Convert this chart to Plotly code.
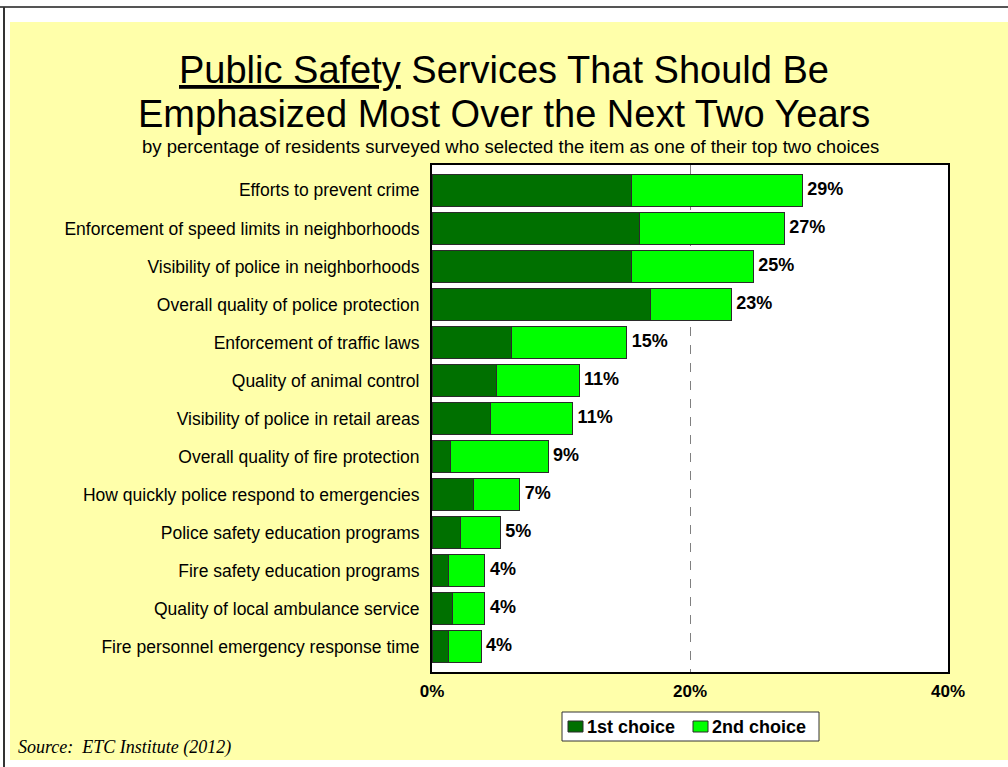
import plotly.graph_objects as go

categories = [
    "Efforts to prevent crime",
    "Enforcement of speed limits in neighborhoods",
    "Visibility of police in neighborhoods",
    "Overall quality of police protection",
    "Enforcement of traffic laws",
    "Quality of animal control",
    "Visibility of police in retail areas",
    "Overall quality of fire protection",
    "How quickly police respond to emergencies",
    "Police safety education programs",
    "Fire safety education programs",
    "Quality of local ambulance service",
    "Fire personnel emergency response time",
]
first_choice = [15.5, 16.1, 15.5, 16.9, 6.2, 5.0, 4.5, 1.4, 3.2, 2.2, 1.3, 1.6, 1.3]
second_choice = [13.2, 11.2, 9.4, 6.3, 8.9, 6.4, 6.4, 7.6, 3.6, 3.1, 2.8, 2.5, 2.5]
total_labels = ["29%", "27%", "25%", "23%", "15%", "11%", "11%", "9%", "7%", "5%", "4%", "4%", "4%"]
x_ticks = [0, 20, 40]
x_tick_text = ["0%", "20%", "40%"]
series_names = ["1st choice", "2nd choice"]
series_colors = ["#007000", "#00ff00"]

totals = [a + b for a, b in zip(first_choice, second_choice)]

W, H = 1008, 767
L, R, T, B = 432, 948, 165, 672
pw, ph = R - L, B - T
SANS = "Liberation Sans, Arial, sans-serif"


def px(xp):
    return (xp - L) / pw


def py(yp):
    return (B - yp) / ph


fig = go.Figure()
for vals, name, col in zip([first_choice, second_choice], series_names, series_colors):
    fig.add_trace(go.Bar(
        y=categories, x=vals, orientation="h", name=name, showlegend=False,
        marker=dict(color=col, line=dict(color="#2b2b2b", width=1)),
    ))
fig.add_trace(go.Scatter(
    y=categories, x=totals, mode="text", text=[" " + t for t in total_labels],
    textposition="middle right", showlegend=False, hoverinfo="skip",
    textfont=dict(family=SANS, size=18, color="black", weight="bold"),
))

shapes = [
    dict(type="rect", xref="paper", yref="paper", x0=px(10), x1=px(1008), y0=py(760), y1=py(22),
         fillcolor="#ffffaa", line=dict(width=0), layer="below"),
    dict(type="line", xref="paper", yref="paper", x0=px(0), x1=px(1008), y0=py(7), y1=py(7),
         line=dict(color="#555555", width=2)),
    dict(type="line", xref="paper", yref="paper", x0=px(4), x1=px(4), y0=py(7), y1=py(767),
         line=dict(color="#333333", width=2)),
    dict(type="rect", xref="paper", yref="paper", x0=0, x1=1, y0=0, y1=1,
         fillcolor="white", line=dict(width=0), layer="below"),
    dict(type="rect", xref="paper", yref="paper", x0=px(562), x1=px(819), y0=py(741), y1=py(712),
         fillcolor="white", line=dict(color="#333333", width=1)),
]

annotations = [
    dict(text="<u>Public Safety</u> Services That Should Be", xref="paper", yref="paper",
         x=px(504), y=py(70), showarrow=False, xanchor="center", yanchor="middle",
         font=dict(family=SANS, size=38, color="black")),
    dict(text="Emphasized Most Over the Next Two Years", xref="paper", yref="paper",
         x=px(504), y=py(114), showarrow=False, xanchor="center", yanchor="middle",
         font=dict(family=SANS, size=38, color="black")),
    dict(text="by percentage of residents surveyed who selected the item as one of their top two choices",
         xref="paper", yref="paper", x=px(510), y=py(146), showarrow=False,
         xanchor="center", yanchor="middle",
         font=dict(family=SANS, size=18.5, color="black")),
    dict(text="Source:  ETC Institute (2012)", xref="paper", yref="paper",
         x=px(16), y=py(748), showarrow=False, xanchor="left", yanchor="middle",
         font=dict(family="Liberation Serif, Times New Roman, serif", size=18, color="black",
                   style="italic")),
]

leg_x = [568, 693]
for xs, name, col in zip(leg_x, series_names, series_colors):
    shapes.append(dict(type="rect", xref="paper", yref="paper", x0=px(xs), x1=px(xs + 15),
                       y0=py(732), y1=py(721), fillcolor=col, line=dict(color="#2b2b2b", width=1)))
    annotations.append(dict(text=name, xref="paper", yref="paper", x=px(xs + 17), y=py(727),
                            showarrow=False, xanchor="left", yanchor="middle",
                            font=dict(family=SANS, size=18, color="black", weight="bold")))

fig.update_layout(
    width=W, height=H,
    margin=dict(l=L, r=W - R, t=T, b=H - B, pad=0),
    barmode="stack", bargap=0.15,
    paper_bgcolor="white", plot_bgcolor="rgba(0,0,0,0)",
    shapes=shapes, annotations=annotations,
    font=dict(family=SANS, color="black"),
    showlegend=False,
    xaxis=dict(
        range=[0, 40], tickvals=x_ticks, ticktext=x_tick_text, showgrid=True,
        gridcolor="#808080", griddash="dash", gridwidth=1, zeroline=False,
        showline=True, mirror=True, linecolor="black", linewidth=2,
        ticks="outside", ticklen=3, tickcolor="rgba(0,0,0,0)",
        tickfont=dict(family=SANS, size=17, color="black", weight="bold"),
        fixedrange=True,
    ),
    yaxis=dict(
        autorange="reversed", showgrid=False, zeroline=False,
        showline=True, mirror=True, linecolor="black", linewidth=2,
        ticks="outside", ticklen=7, tickcolor="rgba(0,0,0,0)",
        tickfont=dict(family=SANS, size=17.5, color="black"),
        fixedrange=True,
    ),
)

fig.write_html("out.html", config={"displayModeBar": False},
               post_script="document.body.style.margin='0px';document.body.style.overflow='hidden';")
